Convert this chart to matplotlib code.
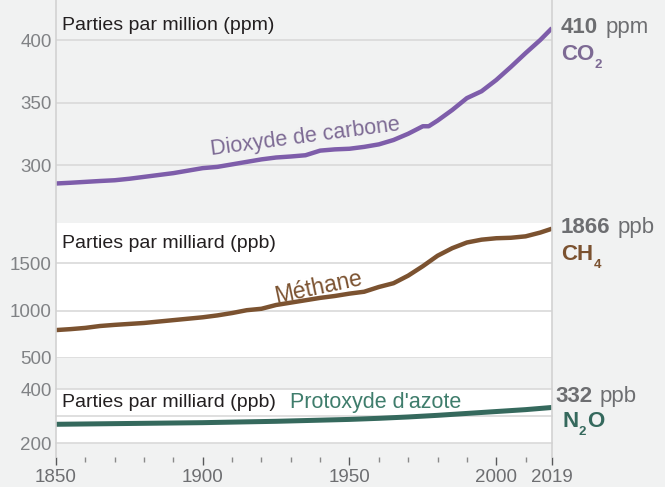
import matplotlib
matplotlib.use("Agg")
import matplotlib.pyplot as plt

plt.rcParams["font.family"] = ["Liberation Sans", "DejaVu Sans"]

# values
co2_years = [1850, 1855, 1860, 1865, 1870, 1875, 1880, 1885, 1890, 1895, 1900, 1905,
             1910, 1915, 1920, 1925, 1930, 1935, 1940, 1945, 1950, 1955, 1960, 1965,
             1970, 1975, 1977, 1980, 1985, 1990, 1995, 2000, 2005, 2010, 2015, 2019]
co2_ppm = [285.2, 285.8, 286.5, 287.2, 287.8, 289.0, 290.5, 292.0, 293.5, 295.5, 297.5, 298.5,
           300.5, 302.5, 304.5, 306.0, 306.8, 307.8, 311.5, 312.5, 313.0, 314.5, 316.5, 320.0,
           325.0, 331.0, 331.0, 335.5, 344.0, 353.5, 359.0, 368.0, 378.5, 389.5, 400.0, 409.5]

ch4_years = [1850, 1855, 1860, 1865, 1870, 1875, 1880, 1885, 1890, 1895, 1900, 1905,
             1910, 1915, 1920, 1925, 1930, 1935, 1940, 1945, 1950, 1955, 1960, 1965,
             1970, 1975, 1980, 1985, 1990, 1995, 2000, 2005, 2010, 2015, 2019]
ch4_ppb = [795, 805, 818, 838, 850, 860, 870, 885, 900, 915, 930, 950,
           975, 1005, 1020, 1060, 1085, 1110, 1135, 1155, 1180, 1200, 1250, 1290,
           1370, 1470, 1580, 1660, 1720, 1750, 1765, 1770, 1785, 1825, 1866]

n2o_years = [1850, 1875, 1900, 1925, 1950, 1960, 1970, 1980, 1990, 2000, 2010, 2019]
n2o_ppb = [270, 273, 276, 281, 288, 292, 297, 303, 310, 317, 324, 332]

major_years = [1850, 1900, 1950, 2000, 2019]
minor_years = [1860, 1870, 1880, 1890, 1910, 1920, 1930, 1940, 1960, 1970, 1980, 1990, 2010]

BG = "#f1f2f2"
GRID = "#d9d9d9"
EDGE = "#d2d2d2"
TICK = "#808285"
DARK = "#6d6e71"
CO2_C = "#7e5daa"
CO2_T = "#7d6a94"
CH4_C = "#7b5230"
N2O_C = "#35695d"
N2O_T = "#3f7d6c"

W, H = 665, 487
X0, X1 = 56, 552

fig = plt.figure(figsize=(W / 100, H / 100), dpi=100, facecolor=BG)


def panel(top, bottom, face):
    ax = fig.add_axes([X0 / W, 1 - bottom / H, (X1 - X0) / W, (bottom - top) / H], facecolor=face)
    ax.set_xlim(1850, 2019)
    for s in ax.spines.values():
        s.set_visible(False)
    ax.set_xticks([])
    ax.tick_params(axis="y", length=0, pad=3, labelsize=13.5, labelcolor=TICK)
    return ax


# CO2 panel
ax1 = panel(0, 200, "none")
ax1.set_ylim(272, 432)
ax1.set_yticks([300, 350, 400])
for v in [300, 350, 400]:
    ax1.axhline(v, color=GRID, lw=1.2, zorder=1)
ax1.plot(co2_years, co2_ppm, color=CO2_C, lw=3.2, solid_capstyle="butt", zorder=3)
ax1.text(1852, 412, "Parties par million (ppm)", fontsize=14, color="#231f20", va="center")
ax1.text(1935, 322.5, "Dioxyde de carbone", fontsize=15.5, color=CO2_T, rotation=7.5,
         ha="center", va="center")

# CH4 panel
ax2 = panel(223, 358, "white")
ax2.set_ylim(500, 1926)
ax2.set_yticks([500, 1000, 1500])
for v in [500, 1000, 1500]:
    ax2.axhline(v, color=GRID, lw=1.2, zorder=1)
ax2.plot(ch4_years, ch4_ppb, color=CH4_C, lw=3.2, solid_capstyle="butt", zorder=3)
ax2.text(1852, 1714, "Parties par milliard (ppb)", fontsize=14, color="#231f20", va="center")
ax2.text(1939.5, 1250, "Méthane", fontsize=16.5, color=CH4_C, rotation=12,
         ha="center", va="center")

# N2O panel
ax3 = panel(389, 443.3, "white")
ax3.set_ylim(200, 400)
ax3.set_yticks([200, 400])
for v in [200, 300, 400]:
    ax3.axhline(v, color=GRID, lw=1.2, zorder=1, clip_on=False)
ax3.plot(n2o_years, n2o_ppb, color=N2O_C, lw=3.6, solid_capstyle="butt", zorder=3)
ax3.text(1852, 352, "Parties par milliard (ppb)", fontsize=14, color="#231f20", va="center")
ax3.text(1929.8, 352, "Protoxyde d'azote", fontsize=15.5, color=N2O_T, va="center")

# base axis: years + edge lines
axb = fig.add_axes([X0 / W, 1 - 457 / H, (X1 - X0) / W, 457 / H], facecolor="none")
axb.set_xlim(1850, 2019)
axb.set_ylim(0, 1)
for s in axb.spines.values():
    s.set_visible(False)
axb.set_yticks([])
axb.set_xticks(major_years)
axb.set_xticks(minor_years, minor=True)
axb.tick_params(axis="x", which="major", length=5.5, width=1, color="#58595b",
                labelsize=13.5, labelcolor=DARK, pad=3.5)
axb.tick_params(axis="x", which="minor", length=3.5, width=1, color="#8a8a8a")
for yr in [1850, 2019]:
    axb.axvline(yr, color=EDGE, lw=1.2, clip_on=False)


# right-hand value labels
def px(x, y):
    return x / W, 1 - y / H


def value_label(x, y, num, unit):
    t = fig.text(*px(x, y), num, fontsize=16, fontweight="bold", color=DARK, va="baseline")
    ax1.annotate(unit, xy=(1, 0), xycoords=t, xytext=(5, 0), textcoords="offset points",
                 fontsize=16, color=DARK, va="bottom", annotation_clip=False)


def formula(x, y, parts, color):
    prev = fig.text(*px(x, y), parts[0], fontsize=16, fontweight="bold", color=color, va="baseline")
    base = prev
    for i, p in enumerate(parts[1:]):
        if i % 2 == 0:
            prev = ax1.annotate(p, xy=(1, 0), xycoords=prev, xytext=(0.5, -2.5),
                                textcoords="offset points", fontsize=9.5, fontweight="bold",
                                color=color, va="baseline", annotation_clip=False)
        else:
            prev = ax1.annotate(p, xy=(1, 0), xycoords=(prev, base), xytext=(0.5, 0),
                                textcoords="offset points", fontsize=16, fontweight="bold",
                                color=color, va="bottom", annotation_clip=False)


value_label(561, 33, "410", "ppm")
formula(561, 60, ["CO", "2"], CO2_T)
value_label(561, 233, "1866", "ppb")
formula(561, 260, ["CH", "4"], CH4_C)
value_label(555, 402, "332", "ppb")
formula(562, 427, ["N", "2", "O"], N2O_C)

fig.savefig("out.png", dpi=100, facecolor=BG)
